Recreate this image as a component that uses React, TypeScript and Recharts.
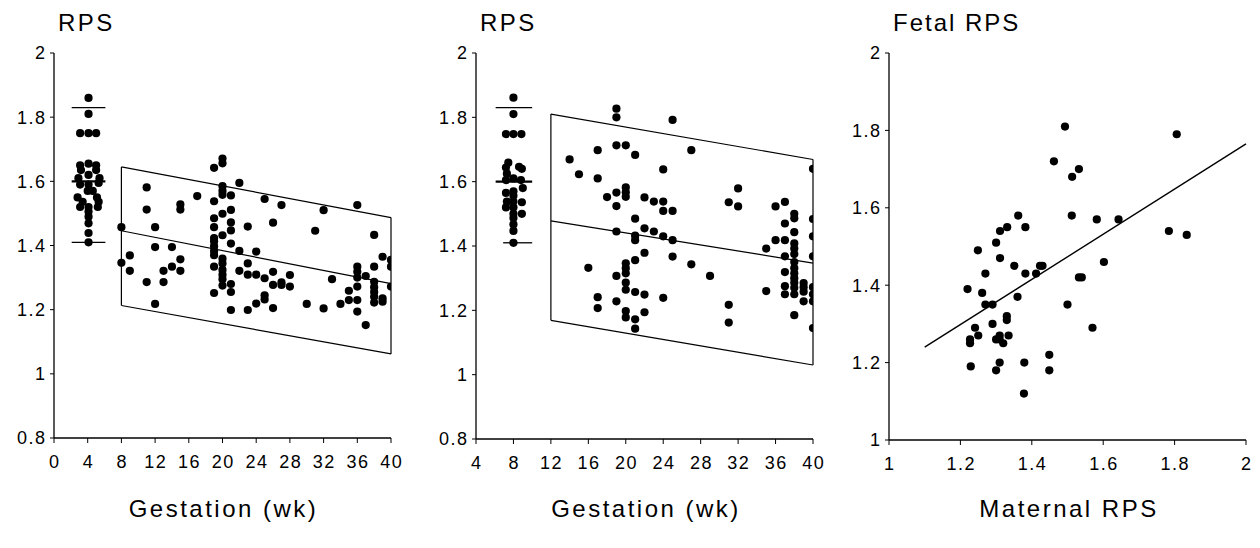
import React from 'react';
import { ScatterChart, Scatter, XAxis, YAxis, ReferenceLine } from 'recharts';

const FONT = '"Liberation Sans", Arial, Helvetica, sans-serif';

// ---------- Panel 1 : RPS vs gestation (early pregnancy column at 4 wk) ----------
const p1EarlyX = [4.1, 4.1, 3.1, 4.1, 5.0, 3.1, 4.1, 5.0, 3.2, 5.0, 4.1, 2.9, 5.4, 3.1, 4.1, 5.3, 4.0, 4.6, 2.8, 5.1, 3.4, 5.3, 3.1, 4.1, 5.2, 4.1, 4.1, 4.1, 4.1, 4.1];
const p1EarlyY = [1.86, 1.81, 1.75, 1.75, 1.75, 1.65, 1.655, 1.65, 1.635, 1.635, 1.62, 1.61, 1.61, 1.59, 1.59, 1.595, 1.57, 1.57, 1.55, 1.55, 1.536, 1.536, 1.52, 1.52, 1.52, 1.506, 1.49, 1.469, 1.439, 1.41];
const p1Bars = [
  [2.1, 1.83, 6.1, 1.83, 1.3],
  [2.1, 1.6, 6.1, 1.6, 2.2],
  [2.1, 1.41, 6.1, 1.41, 1.3],
];
const p1Box = [
  [8, 1.645, 40, 1.487, 1.2],
  [8, 1.446, 40, 1.281, 1.2],
  [8, 1.213, 40, 1.062, 1.2],
  [8, 1.213, 8, 1.645, 1.2],
  [40, 1.062, 40, 1.487, 1.2],
];
const p1Gestation = [
  [8, 1.457], [8, 1.346], [9, 1.369], [9, 1.321],
  [11, 1.581], [11, 1.512], [11, 1.286],
  [12, 1.457], [12, 1.395], [12, 1.218],
  [13, 1.321], [13, 1.286], [14, 1.395], [14, 1.334],
  [15, 1.528], [15, 1.512], [15, 1.357], [15, 1.321], [17, 1.554],
  [19, 1.642], [19, 1.538], [19, 1.485], [19, 1.457], [19, 1.423], [19, 1.413], [19, 1.398], [19, 1.383], [19, 1.37], [19, 1.334], [19, 1.252],
  [20, 1.671], [20, 1.656], [20, 1.585], [20, 1.57], [20, 1.558], [20, 1.499], [20, 1.432], [20, 1.359], [20, 1.344], [20, 1.324], [20, 1.309], [20, 1.295], [20, 1.275],
  [21, 1.556], [21, 1.511], [21, 1.472], [21, 1.447], [21, 1.406], [21, 1.28], [21, 1.255], [21, 1.199],
  [22, 1.595], [22, 1.383], [22, 1.321],
  [23, 1.459], [23, 1.344], [23, 1.309], [23, 1.199],
  [24, 1.381], [24, 1.309], [24, 1.219],
  [25, 1.545], [25, 1.298], [25, 1.245], [25, 1.232],
  [26, 1.471], [26, 1.318], [26, 1.277], [26, 1.205],
  [27, 1.526], [27, 1.285], [27, 1.277], [28, 1.308], [28, 1.272],
  [30, 1.218], [31, 1.446], [32, 1.51], [32, 1.204], [33, 1.295], [34, 1.218], [35, 1.259], [35, 1.23],
  [36, 1.526], [36, 1.334], [36, 1.318], [36, 1.3], [36, 1.272], [36, 1.23], [36, 1.194],
  [37, 1.305], [37, 1.152],
  [38, 1.433], [38, 1.334], [38, 1.287], [38, 1.27], [38, 1.255], [38, 1.24], [38, 1.222],
  [39, 1.365], [39, 1.235], [39, 1.225],
  [40, 1.355], [40, 1.334], [40, 1.272],
];
const p1XTicks = [0, 4, 8, 12, 16, 20, 24, 28, 32, 36, 40];
const rpsYTicks = [0.8, 1, 1.2, 1.4, 1.6, 1.8, 2];

// ---------- Panel 2 : RPS vs gestation (column at 8 wk) ----------
const p2EarlyX = [8, 8, 7.2, 8, 8.85, 7.45, 7.2, 8.6, 8.9, 7.3, 8, 7.2, 8.8, 9.0, 7.2, 8, 8, 7.3, 8, 8.9, 7.2, 8, 8, 8.9, 8, 8, 8, 8];
const p2EarlyY = [1.861, 1.81, 1.748, 1.748, 1.748, 1.659, 1.644, 1.646, 1.64, 1.625, 1.61, 1.605, 1.605, 1.58, 1.565, 1.57, 1.556, 1.538, 1.538, 1.536, 1.52, 1.52, 1.5, 1.5, 1.487, 1.467, 1.447, 1.41];
const p2Bars = [
  [6.1, 1.83, 10, 1.83, 1.3],
  [6.1, 1.6, 10, 1.6, 2.2],
  [6.9, 1.41, 10, 1.41, 1.3],
];
const p2Box = [
  [12, 1.81, 40, 1.669, 1.2],
  [12, 1.478, 40, 1.347, 1.2],
  [12, 1.169, 40, 1.03, 1.2],
  [12, 1.169, 12, 1.81, 1.2],
  [40, 1.03, 40, 1.669, 1.2],
];
const p2Gestation = [
  [14, 1.669], [15, 1.623], [16, 1.332],
  [17, 1.698], [17, 1.61], [17, 1.241], [17, 1.207], [18, 1.552],
  [19, 1.827], [19, 1.8], [19, 1.713], [19, 1.566], [19, 1.524], [19, 1.445], [19, 1.307], [19, 1.228],
  [20, 1.713], [20, 1.582], [20, 1.567], [20, 1.553], [20, 1.346], [20, 1.331], [20, 1.315], [20, 1.286], [20, 1.264], [20, 1.198], [20, 1.178],
  [21, 1.683], [21, 1.485], [21, 1.432], [21, 1.418], [21, 1.356], [21, 1.257], [21, 1.172], [21, 1.143],
  [22, 1.551], [22, 1.455], [22, 1.379], [22, 1.249], [22, 1.194],
  [23, 1.538], [23, 1.445],
  [24, 1.638], [24, 1.538], [24, 1.509], [24, 1.43], [24, 1.239],
  [25, 1.792], [25, 1.509], [25, 1.418], [25, 1.367],
  [27, 1.698], [27, 1.343], [29, 1.307],
  [31, 1.536], [31, 1.217], [31, 1.162], [32, 1.579], [32, 1.523],
  [35, 1.392], [35, 1.26], [36, 1.523], [36, 1.418],
  [37, 1.537], [37, 1.47], [37, 1.418], [37, 1.368], [37, 1.319], [37, 1.275], [37, 1.25],
  [38, 1.5], [38, 1.486], [38, 1.443], [38, 1.408], [38, 1.392], [38, 1.375], [38, 1.35], [38, 1.331], [38, 1.315], [38, 1.3], [38, 1.286], [38, 1.27], [38, 1.25], [38, 1.185],
  [39, 1.285], [39, 1.272], [39, 1.258], [39, 1.228],
  [40, 1.64], [40, 1.484], [40, 1.43], [40, 1.368], [40, 1.272], [40, 1.25], [40, 1.228], [40, 1.145],
];
const p2XTicks = [4, 8, 12, 16, 20, 24, 28, 32, 36, 40];

// ---------- Panel 3 : fetal vs maternal RPS ----------
const p3Maternal = [1.493, 1.806, 1.462, 1.513, 1.532, 1.362, 1.512, 1.582, 1.643, 1.784, 1.834, 1.311, 1.331, 1.382, 1.3, 1.249, 1.311, 1.351, 1.412, 1.423, 1.43, 1.382, 1.27, 1.602, 1.532, 1.54, 1.22, 1.261, 1.36, 1.27, 1.29, 1.5, 1.33, 1.33, 1.29, 1.57, 1.241, 1.25, 1.227, 1.227, 1.3, 1.31, 1.32, 1.335, 1.31, 1.449, 1.449, 1.379, 1.31, 1.3, 1.229, 1.378];
const p3Fetal = [1.81, 1.79, 1.72, 1.68, 1.7, 1.58, 1.58, 1.57, 1.57, 1.54, 1.53, 1.54, 1.55, 1.55, 1.51, 1.49, 1.47, 1.45, 1.43, 1.45, 1.45, 1.43, 1.43, 1.46, 1.42, 1.42, 1.39, 1.38, 1.37, 1.35, 1.35, 1.35, 1.32, 1.31, 1.3, 1.29, 1.29, 1.27, 1.26, 1.25, 1.26, 1.27, 1.25, 1.27, 1.26, 1.22, 1.18, 1.2, 1.2, 1.18, 1.19, 1.12];
const p3Regression = [[1.1, 1.24, 2.0, 1.765, 1.4]];
const p3Ticks = [1, 1.2, 1.4, 1.6, 1.8, 2];

// ---------- helpers ----------
const fromXY = (xs: number[], ys: number[]) => xs.map((x, i) => ({ x, y: ys[i] }));
const fromPairs = (arr: number[][]) => arr.map(([x, y]) => ({ x, y }));

const Dot = (p: any) =>
  p.cx == null || p.cy == null ? <g /> : <circle cx={p.cx} cy={p.cy} r={4.1} fill="#000" />;

const TICK_FS = 18;
const TICK_LS = 1.5;

const XTick = (p: any) => (
  <text x={p.x} y={p.y} dy="0.71em" dx={TICK_LS / 2} textAnchor="middle" fill="#000" fontSize={TICK_FS} fontFamily={FONT} style={{ letterSpacing: `${TICK_LS}px` }}>
    {String(p.payload.value)}
  </text>
);
const YTick = (p: any) => (
  <text x={p.x} y={p.y} dy="0.355em" dx={TICK_LS} textAnchor="end" fill="#000" fontSize={TICK_FS} fontFamily={FONT} style={{ letterSpacing: `${TICK_LS}px` }}>
    {String(p.payload.value)}
  </text>
);

type PanelProps = {
  left: number;
  yAxisWidth: number;
  plotRight: number;
  plotBottom: number;
  xDomain: [number, number];
  xTicks: number[];
  yDomain: [number, number];
  yTicks: number[];
  points: { x: number; y: number }[];
  segments: number[][];
};

function Panel(props: PanelProps) {
  const { left, yAxisWidth, plotRight, plotBottom, xDomain, xTicks, yDomain, yTicks, points, segments } = props;
  const W = 420;
  const H = 548;
  const xAxisH = 40;
  return (
    <div style={{ position: 'absolute', left, top: 0 }}>
      <ScatterChart width={W} height={H} margin={{ top: 53, right: W - plotRight, bottom: H - plotBottom - xAxisH, left: 0 }}>
        <XAxis
          type="number"
          dataKey="x"
          domain={xDomain}
          ticks={xTicks}
          interval={0}
          height={xAxisH}
          tickSize={5}
          tickMargin={12}
          tick={XTick}
          axisLine={{ stroke: '#000', strokeWidth: 1.3 }}
          tickLine={{ stroke: '#000', strokeWidth: 1 }}
          allowDataOverflow
        />
        <YAxis
          type="number"
          dataKey="y"
          domain={yDomain}
          ticks={yTicks}
          interval={0}
          width={yAxisWidth}
          tickSize={4}
          tickMargin={5}
          tick={YTick}
          axisLine={{ stroke: '#000', strokeWidth: 1.3 }}
          tickLine={{ stroke: '#000', strokeWidth: 1 }}
          allowDataOverflow
        />
        {segments.map((s, i) => (
          <ReferenceLine
            key={i}
            segment={[{ x: s[0], y: s[1] }, { x: s[2], y: s[3] }]}
            stroke="#000"
            strokeWidth={s[4]}
            ifOverflow="visible"
          />
        ))}
        <Scatter data={points} shape={Dot} isAnimationActive={false} />
      </ScatterChart>
    </div>
  );
}

const titleStyle = { fontFamily: FONT, fontSize: 24, letterSpacing: '2.5px', fill: '#000' } as const;

export default function App() {
  const p1Points = [...fromXY(p1EarlyX, p1EarlyY), ...fromPairs(p1Gestation)];
  const p2Points = [...fromXY(p2EarlyX, p2EarlyY), ...fromPairs(p2Gestation)];
  const p3Points = fromXY(p3Maternal, p3Fetal);
  return (
    <div style={{ position: 'absolute', left: 0, top: 0, width: 1260, height: 548, background: '#fff', overflow: 'hidden' }}>
      <Panel left={0} yAxisWidth={54} plotRight={391} plotBottom={438} xDomain={[0, 40]} xTicks={p1XTicks} yDomain={[0.8, 2]} yTicks={rpsYTicks} points={p1Points} segments={[...p1Bars, ...p1Box]} />
      <Panel left={420} yAxisWidth={56} plotRight={393} plotBottom={439} xDomain={[4, 40]} xTicks={p2XTicks} yDomain={[0.8, 2]} yTicks={rpsYTicks} points={p2Points} segments={[...p2Bars, ...p2Box]} />
      <Panel left={840} yAxisWidth={49} plotRight={406} plotBottom={440} xDomain={[1, 2]} xTicks={p3Ticks} yDomain={[1, 2]} yTicks={p3Ticks} points={p3Points} segments={p3Regression} />
      <svg width={1260} height={548} style={{ position: 'absolute', left: 0, top: 0, pointerEvents: 'none' }}>
        <text x={58} y={31} style={titleStyle}>RPS</text>
        <text x={480} y={31} style={titleStyle}>RPS</text>
        <text x={893} y={31} style={{ ...titleStyle, letterSpacing: '2px' }}>Fetal RPS</text>
        <text x={223.5} y={517} textAnchor="middle" style={titleStyle}>Gestation (wk)</text>
        <text x={646} y={517} textAnchor="middle" style={titleStyle}>Gestation (wk)</text>
        <text x={1069} y={517} textAnchor="middle" style={titleStyle}>Maternal RPS</text>
      </svg>
    </div>
  );
}
